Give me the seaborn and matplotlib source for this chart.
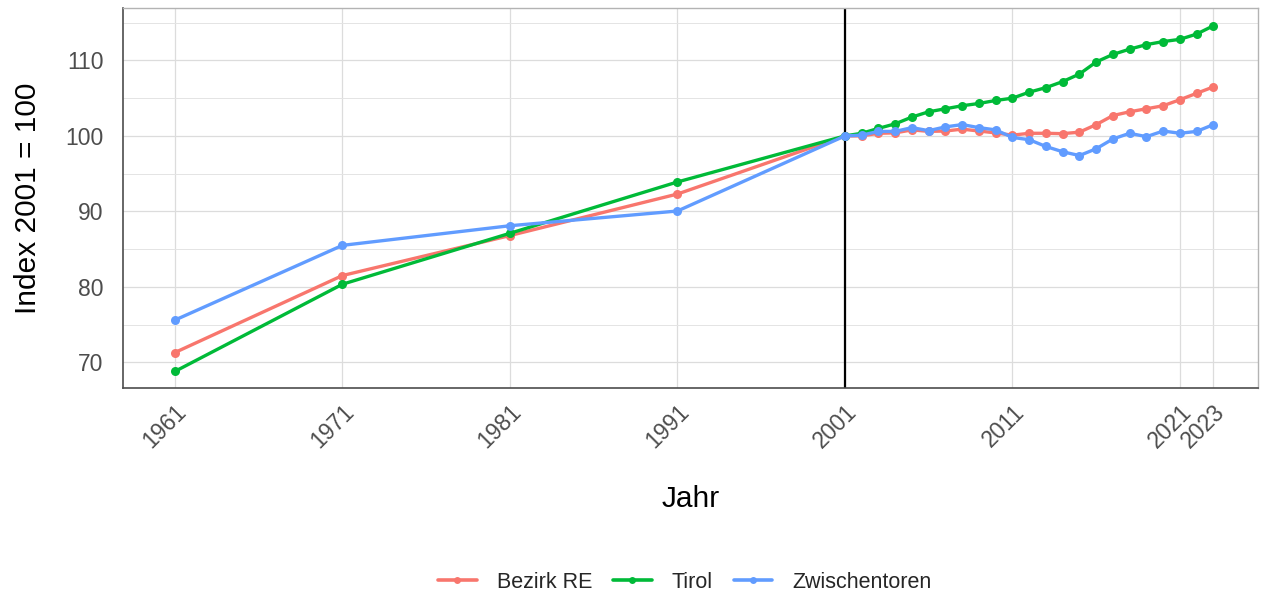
import matplotlib
matplotlib.use("Agg")
import matplotlib.pyplot as plt
from matplotlib.lines import Line2D
import seaborn as sns
import numpy as np
import pandas as pd

# Data
years = [1961, 1971, 1981, 1991] + list(range(2001, 2024))
bezirk_re = [71.3, 81.5, 86.8, 92.3,
             100.0, 100.0, 100.35, 100.4, 100.8, 100.6, 100.65, 100.9, 100.65, 100.4,
             100.1, 100.35, 100.35, 100.3, 100.5, 101.5, 102.7, 103.2, 103.6, 104.0,
             104.8, 105.65, 106.5]
tirol = [68.8, 80.35, 87.1, 93.9,
         100.0, 100.35, 101.0, 101.6, 102.5, 103.2, 103.6, 104.0, 104.3, 104.7,
         105.0, 105.8, 106.4, 107.2, 108.2, 109.8, 110.8, 111.5, 112.1, 112.5,
         112.8, 113.5, 114.6]
zwischentoren = [75.6, 85.5, 88.1, 90.05,
                 100.0, 100.1, 100.6, 100.6, 101.1, 100.7, 101.2, 101.5, 101.1, 100.8,
                 99.8, 99.5, 98.6, 97.9, 97.4, 98.3, 99.6, 100.35, 99.9, 100.65,
                 100.35, 100.6, 101.5]
regions = ["Bezirk RE", "Tirol", "Zwischentoren"]
colors = ["#F8766D", "#00BA38", "#619CFF"]
x_breaks = [1961, 1971, 1981, 1991, 2001, 2011, 2021, 2023]

df = pd.DataFrame({
    "Jahr": years * 3,
    "Index": bezirk_re + tirol + zwischentoren,
    "Region": [r for r in regions for _ in years],
})

sns.set_style("whitegrid")
plt.rcParams["font.family"] = ["Liberation Sans", "DejaVu Sans"]

fig = plt.figure(figsize=(12.61, 5.93), dpi=100)
ax = fig.add_axes([123 / 1261, 1 - 388 / 593, (1258 - 123) / 1261, (388 - 8) / 593])

ax.axvline(2001, color="black", linewidth=1.6, zorder=1.5)
sns.lineplot(data=df, x="Jahr", y="Index", hue="Region", hue_order=regions,
             palette=colors, marker="o", markersize=6.5, markeredgewidth=0,
             linewidth=2.4, ax=ax, legend=False, zorder=3)

ax.set_xlim(1957.9, 2025.66)
ax.set_ylim(66.6, 116.95)
ax.set_xticks(x_breaks)
ax.set_xticklabels([str(y) for y in x_breaks], rotation=45, ha="right",
                   va="top", rotation_mode="anchor")
ax.set_yticks([70, 80, 90, 100, 110])
ax.set_yticks([75, 85, 95, 105, 115], minor=True)

ax.grid(True, which="major", color="#DCDCDC", linewidth=0.9)
ax.grid(True, which="minor", axis="y", color="#E4E4E4", linewidth=0.7)
ax.set_axisbelow(True)

for side in ["top", "right"]:
    ax.spines[side].set_color("#B3B3B3")
    ax.spines[side].set_linewidth(1.0)
for side in ["left", "bottom"]:
    ax.spines[side].set_color("#4D4D4D")
    ax.spines[side].set_linewidth(1.2)

ax.tick_params(axis="both", which="major", length=5, width=1, color="#4D4D4D",
               labelsize=16.5, labelcolor="#4D4D4D", direction="out")
ax.tick_params(axis="y", which="minor", length=0)
ax.tick_params(axis="y", pad=9)
ax.tick_params(axis="x", pad=4)

ax.set_xlabel("Jahr", fontsize=21.5, color="black", labelpad=23)
ax.set_ylabel("Index 2001 = 100", fontsize=21.5, color="black", labelpad=17)

handles = [Line2D([0], [0], color=c, linewidth=2.6, marker="o", markersize=5,
                  markeredgewidth=0) for c in colors]
fig.legend(handles, regions, loc="center", bbox_to_anchor=(685 / 1261, 1 - 582 / 593),
           ncol=3, frameon=False, fontsize=15.5, handlelength=1.77, columnspacing=1.0,
           handletextpad=0.93)

fig.savefig("out.png", dpi=100)
